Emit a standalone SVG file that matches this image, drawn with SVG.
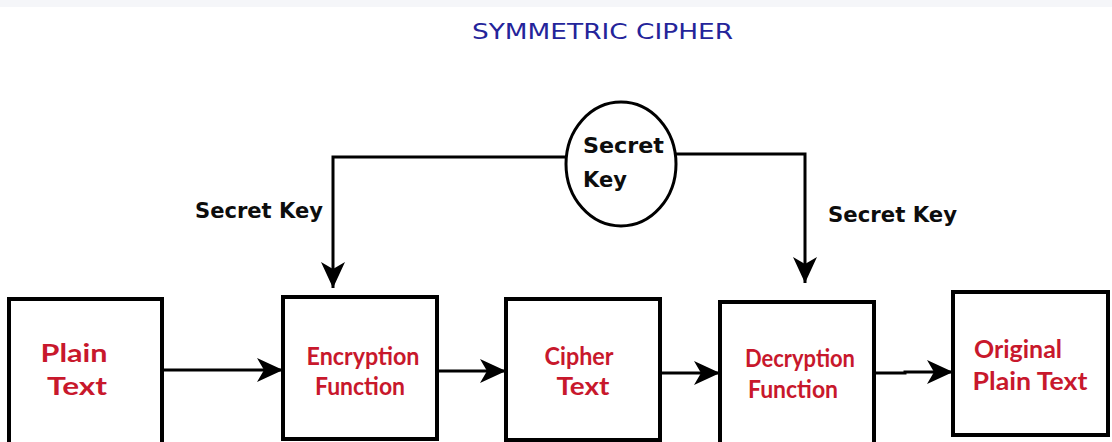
<svg xmlns="http://www.w3.org/2000/svg" width="1112" height="442" viewBox="0 0 1112 442">
<style>
.box{fill:#fff;stroke:#000;stroke-width:4}
.red{font-family:Lato,"Open Sans","DejaVu Sans",sans-serif;font-weight:bold;font-size:25px;fill:#c8182c;text-anchor:middle}
.lbl{font-family:"DejaVu Sans",sans-serif;font-weight:bold;font-size:21px;fill:#0d0d0d}
.con{fill:none;stroke:#000;stroke-width:3}
.title{font-family:"DejaVu Sans",sans-serif;font-size:22px;fill:#24249a}
</style>
<defs>
<marker id="ah" viewBox="0 0 26 24" refX="26" refY="12" markerWidth="26" markerHeight="24" markerUnits="userSpaceOnUse" orient="auto">
<path d="M0,0 L26,12 L0,24 L7,12 Z" fill="#000"/>
</marker>
</defs>
<rect width="1112" height="442" fill="#fff"/>
<rect width="1112" height="7" fill="#f5f6f9"/>
<g id="title">
<text class="title" x="472" y="39" textLength="261" lengthAdjust="spacingAndGlyphs">SYMMETRIC CIPHER</text>
</g>
<g id="connectors">
<path class="con" d="M566,157 H333 V288" marker-end="url(#ah)"/>
<path class="con" d="M676,154 H805 V283" marker-end="url(#ah)"/>
<path class="con" d="M162,370 H283" marker-end="url(#ah)"/>
<path class="con" d="M437,371 H506" marker-end="url(#ah)"/>
<path class="con" d="M660,373 H720" marker-end="url(#ah)"/>
<path class="con" d="M874,373 H905 V372 H953" marker-end="url(#ah)"/>
<text class="lbl" x="195" y="218" textLength="128" lengthAdjust="spacingAndGlyphs">Secret Key</text>
<text class="lbl" x="828" y="222" textLength="129" lengthAdjust="spacingAndGlyphs">Secret Key</text>
</g>
<g id="secret-key">
<ellipse cx="621" cy="164" rx="55" ry="62" fill="#fff" stroke="#000" stroke-width="3"/>
<text class="lbl" x="583" y="153" font-size="22" textLength="81" lengthAdjust="spacingAndGlyphs">Secret</text>
<text class="lbl" x="583" y="187" font-size="22">Key</text>
</g>
<g id="plain-text">
<rect class="box" x="9" y="299" width="153" height="150"/>
<text class="red" x="74" y="362" textLength="67" lengthAdjust="spacingAndGlyphs">Plain</text>
<text class="red" x="77" y="395" textLength="60" lengthAdjust="spacingAndGlyphs">Text</text>
</g>
<g id="encryption-function">
<rect class="box" x="283" y="297" width="154" height="142"/>
<text class="red" x="363" y="365" textLength="113" lengthAdjust="spacingAndGlyphs">Encryption</text>
<text class="red" x="360" y="395" textLength="90" lengthAdjust="spacingAndGlyphs">Function</text>
</g>
<g id="cipher-text">
<rect class="box" x="506" y="299" width="154" height="141"/>
<text class="red" x="579" y="365" textLength="69" lengthAdjust="spacingAndGlyphs">Cipher</text>
<text class="red" x="583" y="395" textLength="53" lengthAdjust="spacingAndGlyphs">Text</text>
</g>
<g id="decryption-function">
<rect class="box" x="720" y="302" width="154" height="150"/>
<text class="red" x="800" y="367" textLength="110" lengthAdjust="spacingAndGlyphs">Decryption</text>
<text class="red" x="793" y="398" textLength="90" lengthAdjust="spacingAndGlyphs">Function</text>
</g>
<g id="original-plain-text">
<rect class="box" x="953" y="292" width="155" height="143"/>
<text class="red" x="1018" y="358" textLength="88" lengthAdjust="spacingAndGlyphs">Original</text>
<text class="red" x="1030" y="390" textLength="115" lengthAdjust="spacingAndGlyphs">Plain Text</text>
</g>
</svg>
